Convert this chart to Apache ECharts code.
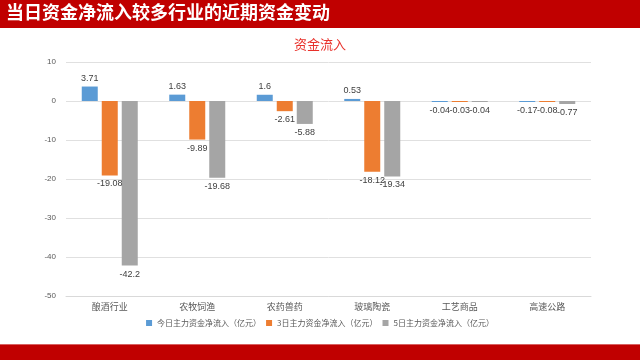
<!DOCTYPE html>
<html><head><meta charset="utf-8">
<script src="https://cdn.jsdelivr.net/npm/echarts@6/dist/echarts.min.js"></script>
<style>html,body{margin:0;padding:0;background:#fff}#c{width:640px;height:360px}</style>
</head><body><div id="c"></div>
<script>
const categories = ['酿酒行业','农牧饲渔','农药兽药','玻璃陶瓷','工艺商品','高速公路'];
const seriesNames = ['今日主力资金净流入（亿元）','3日主力资金净流入（亿元）','5日主力资金净流入（亿元）'];
const today = [3.71, 1.63, 1.6, 0.53, -0.04, -0.17];
const day3 = [-19.08, -9.89, -2.61, -18.12, -0.03, -0.08];
const day5 = [-42.2, -19.68, -5.88, -19.34, -0.04, -0.77];
const colors = ['#5B9BD5','#ED7D31','#A5A5A5'];
const chart = echarts.init(document.getElementById('c'));
function mk(name, data, color){
  return {name, type:'bar', data: data.map(v=>({value:v, label:{position: v>=0?'top':'bottom'}})),
    itemStyle:{color}, barWidth:16, barGap:'25%', barMinHeight:1,
    labelLayout:{hideOverlap:false},
    label:{show:true, color:'#404040', fontSize:9, distance:4, fontFamily:'"Liberation Sans", sans-serif'}};
}
chart.setOption({
  animation:false,
  graphic:[
    {type:'rect', shape:{x:0,y:0,width:640,height:28}, style:{fill:'#C00000'}},
    {type:'text', left:6, top:3, style:{text:'当日资金净流入较多行业的近期资金变动', fill:'#fff', font:'bold 18px "Noto Sans CJK SC", sans-serif'}},
    {type:'rect', shape:{x:0,y:345,width:640,height:15}, style:{fill:'#C00000'}},
    {type:'rect', shape:{x:0,y:344,width:640,height:1}, style:{fill:'#D86060'}}
  ],
  title:{text:'资金流入', left:'center', top:33, textStyle:{color:'#E8302A', fontSize:13, fontWeight:'normal', fontFamily:'"Noto Sans CJK SC", sans-serif'}},
  legend:{bottom:28, left:'center', itemWidth:6, itemHeight:6, itemGap:5, icon:'rect',
    textStyle:{color:'#595959', fontSize:8, fontFamily:'"Noto Sans CJK SC", sans-serif'}, data:seriesNames},
  grid:{left:66, right:49, top:62, bottom:64},
  xAxis:{type:'category', data:categories, position:'bottom',
    axisLine:{onZero:false, lineStyle:{color:'#D9D9D9'}}, axisTick:{show:false},
    axisLabel:{color:'#595959', fontSize:9, margin:6, fontFamily:'"Noto Sans CJK SC", sans-serif'}},
  yAxis:{type:'value', min:-50, max:10, interval:10,
    axisLine:{show:false}, axisTick:{show:false},
    axisLabel:{color:'#595959', fontSize:8, margin:10},
    splitLine:{lineStyle:{color:'#E0E0E0'}}},
  series:[mk(seriesNames[0], today, colors[0]), mk(seriesNames[1], day3, colors[1]), mk(seriesNames[2], day5, colors[2])]
});
</script></body></html>
